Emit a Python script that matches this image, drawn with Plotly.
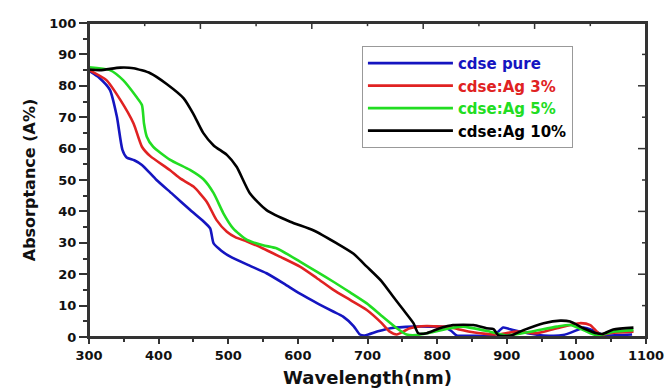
import plotly.graph_objects as go

# ---- data ----
wl_pure = [300, 315, 330, 340, 348, 354, 365, 376, 397, 420, 445, 465, 474, 479, 490, 503, 530, 555, 580, 603,
           630, 650, 665, 680, 689, 696, 715, 733, 766, 790, 809, 820, 828, 850, 881, 895, 909, 930, 953, 981,
           1001, 1010, 1025, 1040, 1060, 1080]
a_pure = [84.8, 82.5, 78.7, 70.2, 59.6, 57.2, 56.3, 54.8, 50, 45.5, 40.5, 36.7, 34.6, 29.8, 27.5, 25.6, 22.8, 20.3, 17, 13.8,
          10.5, 8.2, 6.5, 3.5, 0.8, 0.5, 1.8, 2.8, 3.3, 3.3, 3.2, 2, 0.5, 0.4, 0.5, 3.0, 2.2, 1.2, 0.5, 0.6,
          2.2, 3.0, 2.0, 0.5, 0.6, 0.8]

wl_ag3 = [300, 325, 345, 364, 376, 388, 416, 431, 450, 469, 483, 498, 510, 527, 550, 575, 603, 627, 651, 675,
          699, 720, 732, 742, 761, 785, 805, 814, 830, 847, 870, 886, 914, 943, 972, 1005, 1020, 1034, 1050, 1082]
a_ag3 = [85, 81.8, 75.5, 68, 60.6, 57.6, 53.2, 50.5, 47.9, 43.1, 37.3, 33.5, 31.8, 30.4, 28.2, 25.5, 22.4, 18.8, 15, 11.8,
         8.6, 4.5, 1.7, 0.8, 2.8, 3.5, 3.3, 3.3, 2.5, 1.7, 1.0, 0.8, 1.7, 1.2, 2.8, 4.4, 3.8, 0.8, 1.3, 1.7]

wl_ag5 = [300, 330, 349, 368, 376, 379, 383, 392, 416, 445, 464, 479, 493, 507, 527, 550, 570, 603, 627, 651,
          675, 699, 720, 742, 756, 770, 785, 819, 837, 876, 900, 934, 972, 991, 1010, 1029, 1053, 1082]
a_ag5 = [85.9, 85, 81.8, 76.5, 73.9, 68, 63.8, 60.6, 56.5, 53.2, 50.3, 45.8, 39.4, 34.6, 30.9, 29.2, 28.2, 24, 20.8, 17.6,
         14.2, 10.7, 6.8, 2.8, 0.8, 0.6, 1.2, 2.8, 3.3, 1.7, 0.5, 1.7, 3.3, 3.8, 2.2, 0.5, 1.7, 2.2]

wl_ag10 = [300, 316, 345, 364, 388, 412, 436, 450, 464, 479, 498, 512, 531, 555, 589, 622, 656, 680, 699, 720,
           737, 752, 766, 773, 785, 804, 823, 852, 871, 881, 888, 906, 924, 953, 977, 991, 1010, 1029, 1038, 1053, 1082]
a_ag10 = [85.2, 85, 85.8, 85.6, 84, 80.5, 76, 71, 65, 61, 58, 54.2, 45.8, 40.4, 36.7, 34, 29.8, 26.5, 22.4, 17.8,
          12.8, 8.5, 4.4, 1.2, 1.2, 2.8, 3.8, 3.8, 2.8, 2.5, 0.5, 0.5, 2.2, 4.4, 5.2, 4.9, 2.8, 1.2, 1.0, 2.4, 3.0]

series_names = ["cdse pure", "cdse:Ag 3%", "cdse:Ag 5%", "cdse:Ag 10%"]
series_x = [wl_pure, wl_ag3, wl_ag5, wl_ag10]
series_y = [a_pure, a_ag3, a_ag5, a_ag10]
colors = ["#1515c0", "#e02222", "#22dd22", "#000000"]

x_ticks = [300, 400, 500, 600, 700, 800, 900, 1000, 1100]
y_ticks = [0, 10, 20, 30, 40, 50, 60, 70, 80, 90, 100]
# ticks of the mirrored frame (top edge divided in tenths, right edge every 10 %)
top_major = [460, 620, 780, 940]
top_minor = [380, 540, 700, 860, 1020]
right_major = [20, 40, 60, 80]
right_minor = [10, 30, 50, 70, 90]

FONT = "DejaVu Sans"
AXC = "#333333"

fig = go.Figure()
for name, xs, ys, c in zip(series_names, series_x, series_y, colors):
    fig.add_trace(go.Scatter(
        x=xs, y=ys, mode="lines",
        line=dict(color=c, width=2.6, shape="spline", smoothing=0.6),
        name=f"<span style='color:{c}'>{name}</span>",
        cliponaxis=True,
    ))

# frame box (paper-referenced, not clipped) and inward ticks on the top / right edges
fig.add_shape(type="rect", xref="paper", yref="paper", x0=0, x1=1, y0=0, y1=1,
              line=dict(color=AXC, width=2), fillcolor="rgba(0,0,0,0)", layer="above")
for vals, ln in ((top_major, 0.019), (top_minor, 0.010)):
    for v in vals:
        fig.add_shape(type="line", xref="x", yref="paper", x0=v, x1=v, y0=1, y1=1 - ln,
                      line=dict(color=AXC, width=1.5), layer="above")
for vals, ln in ((right_major, 0.0144), (right_minor, 0.0072)):
    for v in vals:
        fig.add_shape(type="line", xref="paper", yref="y", x0=1, x1=1 - ln, y0=v, y1=v,
                      line=dict(color=AXC, width=1.5), layer="above")

fig.update_layout(
    width=667, height=388,
    margin=dict(l=89, r=21, t=23, b=51, autoexpand=False),
    plot_bgcolor="white", paper_bgcolor="white",
    font=dict(family=FONT, color="#111", weight="bold"),
    showlegend=True,
    legend=dict(
        x=0.49, y=0.927, xanchor="left", yanchor="top",
        bgcolor="white", bordercolor="#999999", borderwidth=1,
        font=dict(family=FONT, size=15, weight="bold"),
        tracegroupgap=0, itemwidth=85,
    ),
    xaxis=dict(
        range=[300, 1100], tickvals=x_ticks, ticks="outside", ticklen=5, tickwidth=1.5, tickcolor=AXC,
        showline=True, mirror=True, linecolor=AXC, linewidth=2, showgrid=False, zeroline=False, automargin=False,
        minor=dict(dtick=50, tick0=300, ticks="outside", ticklen=3, tickwidth=1.5, tickcolor=AXC, showgrid=False),
        tickfont=dict(family=FONT, size=13, weight="bold", color="#111"),
        title=dict(text="Wavelength(nm)", font=dict(family=FONT, size=18, weight="bold", color="#111"), standoff=10),
    ),
    yaxis=dict(
        range=[0, 100], tickvals=y_ticks, ticks="outside", ticklen=8, tickwidth=1.5, tickcolor=AXC,
        showline=True, mirror=True, linecolor=AXC, linewidth=2, showgrid=False, zeroline=False, automargin=False,
        minor=dict(dtick=5, tick0=0, ticks="outside", ticklen=4, tickwidth=1.5, tickcolor=AXC, showgrid=False),
        tickfont=dict(family=FONT, size=13, weight="bold", color="#111"),
        title=dict(text="Absorptance (A%)", font=dict(family=FONT, size=16, weight="bold", color="#111"), standoff=10),
    ),
)

fig.write_html("out.html")
